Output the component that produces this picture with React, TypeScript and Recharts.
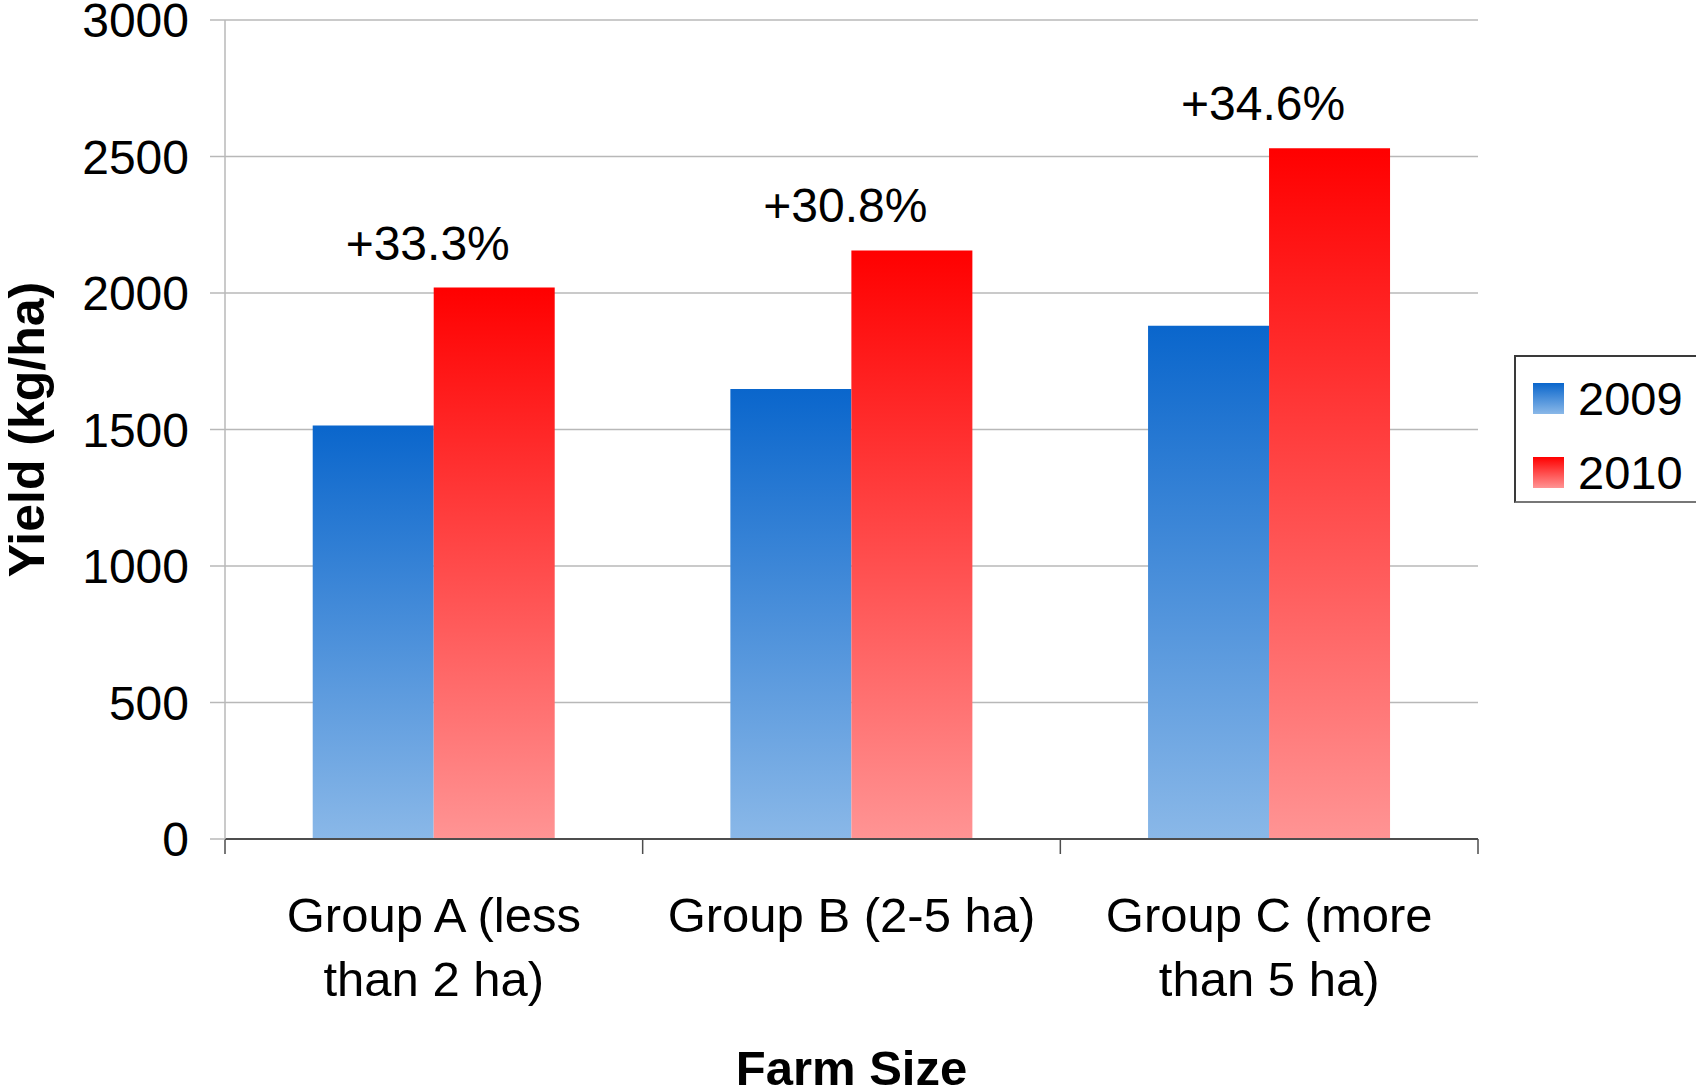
import { Bar, BarChart, CartesianGrid, LabelList, Legend, XAxis, YAxis } from "recharts";

const groups = ["Group A (less than 2 ha)", "Group B (2-5 ha)", "Group C (more than 5 ha)"];
const yield2009 = [1515, 1648, 1880];
const yield2010 = [2020, 2156, 2530];
const yTicks = [0, 500, 1000, 1500, 2000, 2500, 3000];
const groupEdges = [0, 1, 2, 3];

// slot = middle of each group on a 0..3 scale, used by the boundary-tick axis
const data = groups.map((group, i) => ({ group, slot: i + 0.5, y2009: yield2009[i], y2010: yield2010[i] }));

const FONT = '"Liberation Sans", Arial, Helvetica, sans-serif';

const series = [
  { key: "y2009", name: "2009", top: "#0a66cc", bottom: "#8ab8e8" },
  { key: "y2010", name: "2010", top: "#ff0000", bottom: "#ff9494" },
];

// long group names break before "than"
function GroupTick({ x, y, payload }: any) {
  const lines = String(payload.value).split(/ (?=than )/);
  return (
    <text x={x} y={y} textAnchor="middle" fontSize={49} fontFamily={FONT} fill="#000">
      {lines.map((line, i) => (
        <tspan key={i} x={x} dy={i === 0 ? "0.71em" : 64}>
          {line}
        </tspan>
      ))}
    </text>
  );
}

function ChangeLabel(props: any) {
  const box = props.viewBox ?? props;
  const i = props.index ?? yield2010.indexOf(props.value);
  const pct = (yield2010[i] / yield2009[i] - 1) * 100;
  return (
    <text x={box.x - 6} y={box.y - 28} textAnchor="middle" fontSize={48} fontFamily={FONT} fill="#000">
      {`+${pct.toFixed(1)}%`}
    </text>
  );
}

function YTitle({ viewBox }: any) {
  const x = viewBox.x + 44;
  const y = viewBox.y + viewBox.height / 2;
  return (
    <text
      x={x}
      y={y}
      transform={`rotate(-90, ${x}, ${y})`}
      textAnchor="middle"
      fontSize={50}
      fontWeight="bold"
      fontFamily={FONT}
      fill="#000"
    >
      Yield (kg/ha)
    </text>
  );
}

function XTitle({ viewBox }: any) {
  return (
    <text
      x={viewBox.x + viewBox.width / 2}
      y={viewBox.y + 245}
      textAnchor="middle"
      fontSize={49}
      fontWeight="bold"
      fontFamily={FONT}
      fill="#000"
    >
      Farm Size
    </text>
  );
}

function LegendBox() {
  return (
    <div style={{ paddingLeft: 36, width: 182, fontFamily: FONT }}>
      <div
        style={{
          position: "relative",
          height: 144,
          border: "2px solid #3a3a3a",
          borderRight: "none",
          borderBottomColor: "#777",
          background: "#fff",
        }}
      >
        {series.map((s, i) => (
          <div
            key={s.key}
            style={{
              position: "absolute",
              left: 17,
              top: 16 + i * 74,
              height: 50,
              display: "flex",
              alignItems: "center",
            }}
          >
            <span
              style={{
                width: 31,
                height: 31,
                background: `linear-gradient(to bottom, ${s.top}, ${s.bottom})`,
                marginRight: 14,
              }}
            />
            <span style={{ fontSize: 47, color: "#000", lineHeight: 1 }}>{s.name}</span>
          </div>
        ))}
      </div>
    </div>
  );
}

export default function App() {
  return (
    <div
      style={{
        position: "absolute",
        left: 0,
        top: 0,
        width: 1696,
        height: 1089,
        overflow: "hidden",
        background: "#fff",
        fontFamily: FONT,
      }}
    >
      <BarChart
        width={1696}
        height={1089}
        data={data}
        margin={{ top: 20, right: 0, bottom: 0, left: 0 }}
        barCategoryGap="21%"
        barGap={0}
      >
        <defs>
          {series.map((s) => (
            <linearGradient key={s.key} id={`fill-${s.key}`} x1="0" y1="0" x2="0" y2="1">
              <stop offset="0%" stopColor={s.top} />
              <stop offset="100%" stopColor={s.bottom} />
            </linearGradient>
          ))}
        </defs>
        <CartesianGrid vertical={false} stroke="#b8b8b8" strokeWidth={1.5} />
        {/* thin axis right at the plot bottom: baseline and group boundary ticks */}
        <XAxis
          xAxisId={0}
          dataKey="slot"
          type="number"
          domain={[0, 3]}
          ticks={groupEdges}
          interval={0}
          allowDataOverflow
          tick={() => <g />}
          tickSize={15}
          height={1}
          axisLine={{ stroke: "#4d4d4d", strokeWidth: 2 }}
          tickLine={{ stroke: "#4d4d4d", strokeWidth: 1.5 }}
        />
        <XAxis
          xAxisId="groups"
          dataKey="group"
          axisLine={false}
          tickLine={false}
          tickMargin={51}
          height={249}
          interval={0}
          tick={(p: any) => <GroupTick {...p} />}
          label={{ content: XTitle }}
        />
        <YAxis
          width={225}
          domain={[0, 3000]}
          ticks={yTicks}
          interval={0}
          tickSize={15}
          tickMargin={21}
          axisLine={{ stroke: "#b8b8b8", strokeWidth: 1.5 }}
          tickLine={{ stroke: "#b8b8b8", strokeWidth: 1.5 }}
          tick={{ fontSize: 48, fontFamily: FONT, fill: "#000" }}
          label={{ content: YTitle }}
        />
        <Legend
          layout="vertical"
          align="right"
          verticalAlign="top"
          wrapperStyle={{ top: 355 }}
          content={() => <LegendBox />}
        />
        <Bar xAxisId="groups" dataKey="y2009" name="2009" fill="url(#fill-y2009)" isAnimationActive={false} />
        <Bar xAxisId="groups" dataKey="y2010" name="2010" fill="url(#fill-y2010)" isAnimationActive={false}>
          <LabelList dataKey="y2010" content={ChangeLabel} />
        </Bar>
      </BarChart>
    </div>
  );
}
